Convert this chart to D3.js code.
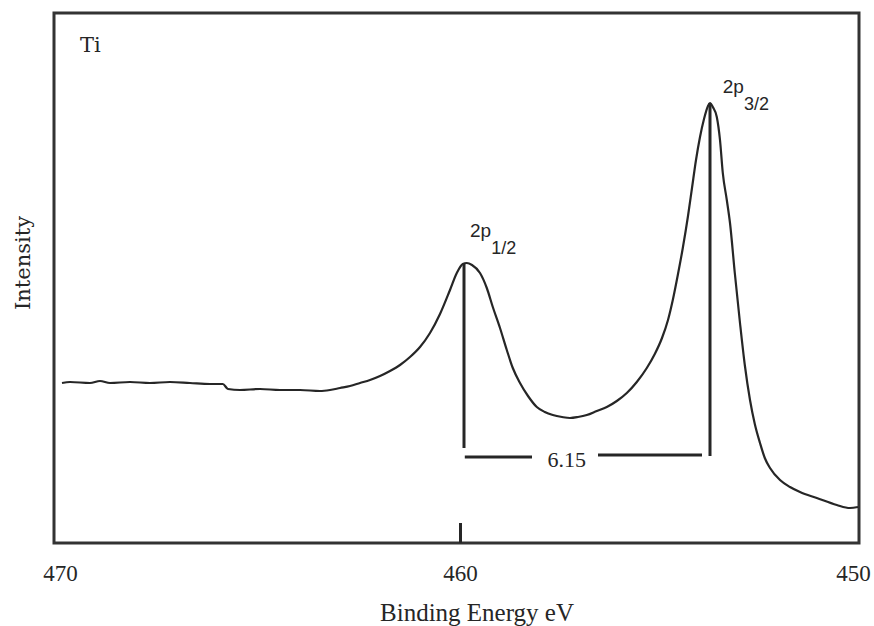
<!DOCTYPE html>
<html>
<head>
<meta charset="utf-8">
<script src="https://cdn.jsdelivr.net/npm/d3@7"></script>
<style>
  body { margin: 0; background: #fff; }
</style>
</head>
<body>
<div id="chart"></div>
<script>
// Ti 2p XPS spectrum
const bindingEnergy = [
  469.95, 469.75, 469.25, 469.0, 468.75, 468.25, 467.75, 467.25, 466.75, 466.25,
  465.93, 465.8, 465.5, 465.0, 464.5, 464.0, 463.5, 463.25, 463.0, 462.75,
  462.5, 462.25, 462.0, 461.75, 461.5, 461.25, 461.0, 460.75, 460.5, 460.25,
  460.08, 459.93, 459.83, 459.7, 459.5, 459.33, 459.18, 459.0, 458.83, 458.68,
  458.5, 458.3, 458.08, 457.88, 457.68, 457.45, 457.25, 457.05, 456.83, 456.58,
  456.33, 456.08, 455.83, 455.58, 455.33, 455.13, 454.95, 454.8, 454.68, 454.55,
  454.43, 454.3, 454.2, 454.1, 454.0, 453.9, 453.8, 453.75, 453.68, 453.58,
  453.5, 453.43, 453.33, 453.25, 453.13, 453.0, 452.88, 452.75, 452.63, 452.5,
  452.38, 452.25, 452.0, 451.75, 451.5, 451.08, 450.58, 450.25, 450.05
]
const intensity = [
  3200, 3220, 3200, 3240, 3200, 3220, 3200, 3220, 3200, 3180,
  3180, 3080, 3060, 3080, 3060, 3060, 3040, 3060, 3100, 3140,
  3200, 3260, 3340, 3440, 3560, 3720, 3920, 4200, 4580, 5060,
  5400, 5580, 5600, 5560, 5400, 5100, 4720, 4300, 3860, 3500,
  3200, 2940, 2720, 2620, 2560, 2520, 2500, 2520, 2560, 2640,
  2720, 2840, 3000, 3220, 3500, 3780, 4100, 4460, 4860, 5380,
  5900, 6540, 7100, 7660, 8120, 8480, 8740, 8800, 8720, 8520,
  8060, 7400, 6860, 6400, 5400, 4400, 3560, 2860, 2380, 2000,
  1700, 1500, 1260, 1120, 1020, 900, 760, 700, 720
]
const tickValues = [470, 460, 450]

// peak markers: position, top and bottom of the drop line
const peakNames = ['2p', '2p']
const peakSubs = ['1/2', '3/2']
const peakEnergy = [459.9, 453.75]
const peakTop = [5580, 8800]
const peakBottom = [1900, 1740]
const labelEnergy = [459.75, 453.43]
const labelLevel = [6120, 9000]

// spin-orbit splitting bracket
const splitting = '6.15'
const splitLeft = [459.88, 458.2]
const splitRight = [456.55, 453.95]
const splitLevel = [1720, 1760]
const splitLabelAt = 457.33

const width = 874
const height = 626
const frame = { left: 54, top: 13, right: 859, bottom: 543 }
const ink = '#262626'

const xScale = d3.scaleLinear()
  .domain([470, 450])
  .range([60, 860])

const yScale = d3.scaleLinear()
  .domain([0, 10600])
  .range([frame.bottom, frame.top])

const points = bindingEnergy.map((e, i) => ({ e, v: intensity[i] }))

const svg = d3.select('#chart')
  .append('svg')
  .attr('width', width)
  .attr('height', height)
  .attr('viewBox', [0, 0, width, height])

svg.append('rect')
  .attr('x', frame.left)
  .attr('y', frame.top)
  .attr('width', frame.right - frame.left)
  .attr('height', frame.bottom - frame.top)
  .attr('fill', 'none')
  .attr('stroke', '#333')
  .attr('stroke-width', 3)

const line = d3.line()
  .x(d => xScale(d.e))
  .y(d => yScale(d.v))
  .curve(d3.curveMonotoneX)

svg.append('path')
  .datum(points)
  .attr('fill', 'none')
  .attr('stroke', ink)
  .attr('stroke-width', 2.2)
  .attr('stroke-linejoin', 'round')
  .attr('d', line)

// the only tick mark, pointing up inside the frame
svg.append('g')
  .attr('transform', `translate(0,${frame.bottom})`)
  .call(d3.axisBottom(xScale).tickValues([460]).tickSize(-20).tickFormat(''))
  .call(g => g.select('.domain').remove())
  .call(g => g.selectAll('.tick line').attr('stroke', ink).attr('stroke-width', 3))

// tick labels
svg.append('g')
  .attr('transform', `translate(0,${frame.bottom})`)
  .call(d3.axisBottom(xScale).tickValues(tickValues).tickSize(0).tickPadding(0))
  .call(g => g.select('.domain').remove())
  .call(g => g.selectAll('.tick text')
    .attr('y', 38)
    .attr('dy', 0)
    .attr('dx', d => d === 450 ? -7 : 0)
    .attr('fill', ink)
    .attr('font-family', '"Liberation Serif", serif')
    .attr('font-size', 23))

svg.append('text')
  .attr('x', 477)
  .attr('y', 621)
  .attr('text-anchor', 'middle')
  .attr('fill', ink)
  .attr('font-family', '"Liberation Serif", serif')
  .attr('font-size', 25)
  .text('Binding Energy eV')

svg.append('text')
  .attr('transform', 'translate(30,263) rotate(-90)')
  .attr('text-anchor', 'middle')
  .attr('fill', ink)
  .attr('font-family', '"DejaVu Serif", serif')
  .attr('font-size', 21)
  .text('Intensity')

svg.append('text')
  .attr('x', 80)
  .attr('y', 52)
  .attr('fill', ink)
  .attr('font-family', '"DejaVu Serif", serif')
  .attr('font-size', 21)
  .text('Ti')

// peak drop lines
svg.append('g')
  .attr('stroke', ink)
  .attr('stroke-width', 3)
  .selectAll('line')
  .data(peakEnergy)
  .join('line')
  .attr('x1', d => xScale(d))
  .attr('x2', d => xScale(d))
  .attr('y1', (d, i) => yScale(peakTop[i]))
  .attr('y2', (d, i) => yScale(peakBottom[i]))

// peak labels
const labels = svg.append('g')
  .attr('fill', ink)
  .attr('font-family', '"Liberation Sans", Arial, sans-serif')
  .selectAll('text')
  .data(labelEnergy)
  .join('text')
  .attr('x', d => xScale(d))
  .attr('y', (d, i) => yScale(labelLevel[i]))
  .attr('font-size', 19)

labels.append('tspan').text((d, i) => peakNames[i])
labels.append('tspan')
  .attr('dy', 17)
  .attr('font-size', 18)
  .text((d, i) => peakSubs[i])

// splitting bracket
svg.append('g')
  .attr('stroke', ink)
  .attr('stroke-width', 3)
  .selectAll('line')
  .data([splitLeft, splitRight])
  .join('line')
  .attr('x1', d => xScale(d[0]))
  .attr('x2', d => xScale(d[1]))
  .attr('y1', (d, i) => yScale(splitLevel[i]))
  .attr('y2', (d, i) => yScale(splitLevel[i]))

svg.append('text')
  .attr('x', xScale(splitLabelAt))
  .attr('y', yScale(splitLevel[0]) + 10)
  .attr('text-anchor', 'middle')
  .attr('fill', ink)
  .attr('font-family', '"Liberation Serif", serif')
  .attr('font-size', 22)
  .text(splitting)
</script>
</body>
</html>
